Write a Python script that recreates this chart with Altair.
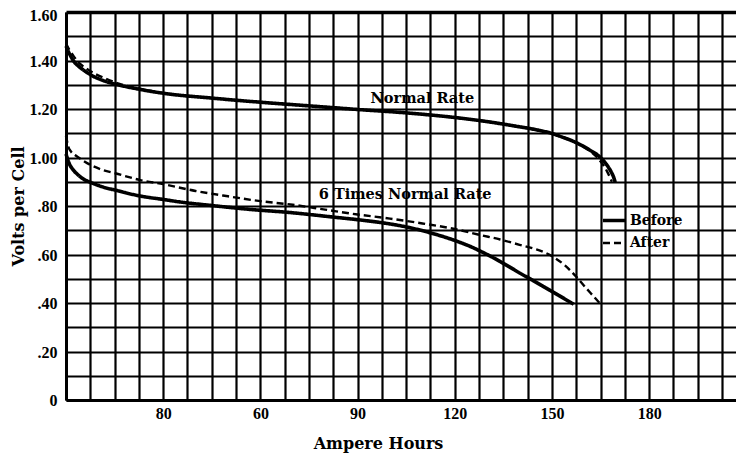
import altair as alt
import pandas as pd

# ---- data ----
ah_normal_before = [0, 1, 2.5, 4, 6, 8, 12, 16, 22, 30, 45, 60, 75, 90, 105, 120, 130, 138, 146,
                    150, 153, 156, 159, 162, 164, 165.5, 167, 168.3, 169, 169.5]
v_normal_before = [1.46, 1.43, 1.395, 1.375, 1.355, 1.338, 1.315, 1.3, 1.283, 1.265, 1.245, 1.228,
                   1.213, 1.198, 1.184, 1.165, 1.148, 1.131, 1.112, 1.099, 1.085, 1.07, 1.051,
                   1.028, 1.011, 0.993, 0.968, 0.94, 0.92, 0.898]

ah_normal_after = [0, 1, 2.5, 4, 6, 8, 12, 16, 22, 30, 45, 60, 75, 90, 105, 120, 130, 138, 146,
                   150, 153, 156, 159, 162, 164, 165.5, 167, 168.5]
v_normal_after = [1.47, 1.445, 1.415, 1.39, 1.37, 1.352, 1.327, 1.306, 1.286, 1.266, 1.245, 1.228,
                  1.213, 1.198, 1.184, 1.165, 1.148, 1.131, 1.112, 1.099, 1.085, 1.07, 1.05,
                  1.024, 1.0, 0.975, 0.943, 0.9]

ah_six_before = [0, 1, 2.3, 4, 5.5, 7.5, 11, 15, 23, 30, 35, 45, 56, 70, 82, 91, 100, 106, 112,
                 118, 122, 125, 128, 131, 134, 137, 140, 144, 148, 152, 156.7]
v_six_before = [1.015, 0.975, 0.948, 0.925, 0.91, 0.898, 0.88, 0.866, 0.841, 0.827, 0.817, 0.802,
                0.787, 0.772, 0.755, 0.742, 0.726, 0.711, 0.691, 0.667, 0.648, 0.632, 0.613, 0.593,
                0.571, 0.548, 0.524, 0.494, 0.463, 0.432, 0.395]

ah_six_after = [0, 0.7, 1.5, 3, 4.4, 7.5, 11, 15.2, 22.9, 30, 40, 50, 60, 70, 80, 90, 100, 110,
                120, 128, 134, 140, 145, 148, 151, 154, 157.5, 160.5, 163, 165]
v_six_after = [1.09, 1.045, 1.025, 1.008, 0.995, 0.97, 0.95, 0.935, 0.907, 0.89, 0.862, 0.84, 0.82,
               0.805, 0.785, 0.765, 0.748, 0.728, 0.705, 0.68, 0.662, 0.64, 0.622, 0.607, 0.585,
               0.555, 0.508, 0.462, 0.425, 0.395]

series_names = ["Before", "After"]
label_texts = ["Normal Rate", "6 Times Normal Rate"]
label_ah = [110.0, 104.7]
label_v = [1.241, 0.845]

x_grid_values = [i * 7.5 for i in range(0, 28)]
y_grid_values = [round(i * 0.1, 1) for i in range(0, 17)]

rows = []
for curve, series, xs, ys in [
    ("Normal Rate", "Before", ah_normal_before, v_normal_before),
    ("Normal Rate", "After", ah_normal_after, v_normal_after),
    ("6 Times Normal Rate", "Before", ah_six_before, v_six_before),
    ("6 Times Normal Rate", "After", ah_six_after, v_six_after),
]:
    for a, v in zip(xs, ys):
        rows.append({"curve": curve + " " + series, "series": series, "ah": a, "v": v})
df = pd.DataFrame(rows)
labels_df = pd.DataFrame({"ah": label_ah, "v": label_v, "text": label_texts})

SERIF = "DejaVu Serif"
TICKF = "Liberation Serif"

x_scale = alt.Scale(domain=[0, 206.8], nice=False, zero=False)
y_scale = alt.Scale(domain=[0, 1.6], nice=False)

x_axis = alt.Axis(
    values=x_grid_values, grid=True, gridColor="black", gridWidth=2.2, gridOpacity=1,
    ticks=False, domainColor="black", domainWidth=3,
    labelExpr="datum.value > 0 && datum.value < 200 && datum.value % 30 == 0 ? (datum.value == 30 ? '80' : format(datum.value, 'd')) : ''",
    labelFont=TICKF, labelFontWeight="bold", labelFontSize=16, labelColor="black", labelPadding=5,
    labelFlush=False, labelOverlap=False,
    title="Ampere Hours", titleFont=SERIF, titleFontWeight="bold", titleFontSize=16,
    titleColor="black", titlePadding=14, titleX=312, titleAlign="center",
)
y_axis = alt.Axis(
    values=y_grid_values, grid=True, gridColor="black",
    gridWidth={"condition": {"test": "datum.value >= 1.59", "value": 3.5}, "value": 2.2},
    gridOpacity=1, ticks=False, domainColor="black", domainWidth=3,
    labelExpr="round(datum.value*10) % 2 == 0 ? (datum.value == 0 ? '0' : (datum.value < 1 ? replace(format(datum.value, '.2f'), '0.', '.') : format(datum.value, '.2f'))) : ''",
    labelFont=TICKF, labelFontWeight="bold", labelFontSize=16, labelColor="black", labelPadding=9,
    labelOffset={"condition": {"test": "datum.value >= 1.59", "value": 3}, "value": 0.5},
    labelFlush=False, labelOverlap=False,
    title="Volts per Cell", titleFont=SERIF, titleFontWeight="bold", titleFontSize=16,
    titleColor="black", titlePadding=3,
)

lines = alt.Chart(df).mark_line(color="black", interpolate="monotone").encode(
    x=alt.X("ah:Q", scale=x_scale, axis=x_axis),
    y=alt.Y("v:Q", scale=y_scale, axis=y_axis),
    detail="curve:N",
    strokeDash=alt.StrokeDash(
        "series:N",
        scale=alt.Scale(domain=series_names, range=[[1, 0], [7, 4]]),
        legend=alt.Legend(
            title=None, orient="none", legendX=535, legendY=195, direction="vertical",
            symbolType="stroke", symbolSize=529, symbolStrokeWidth=2.8, symbolStrokeColor="black",
            labelFont=SERIF, labelFontWeight="bold", labelFontSize=14, labelColor="black",
            labelOffset=2, rowPadding=2, padding=0,
        ),
    ),
    strokeWidth=alt.StrokeWidth(
        "series:N", scale=alt.Scale(domain=series_names, range=[3.6, 2.4]), legend=None
    ),
)

texts = alt.Chart(labels_df).mark_text(
    font=SERIF, fontWeight="bold", fontSize=14.5, color="black", align="center", baseline="middle"
).encode(
    x=alt.X("ah:Q", scale=x_scale, axis=x_axis),
    y=alt.Y("v:Q", scale=y_scale, axis=y_axis),
    text="text:N",
)

chart = alt.layer(lines, texts).properties(
    width=670, height=388,
    autosize=alt.AutoSizeParams(type="none"),
    padding={"left": 58, "top": 4, "right": 0, "bottom": 55},
    background="white",
).configure_view(stroke=None)

chart.save("out.html", embed_options={"renderer": "svg", "actions": False})
